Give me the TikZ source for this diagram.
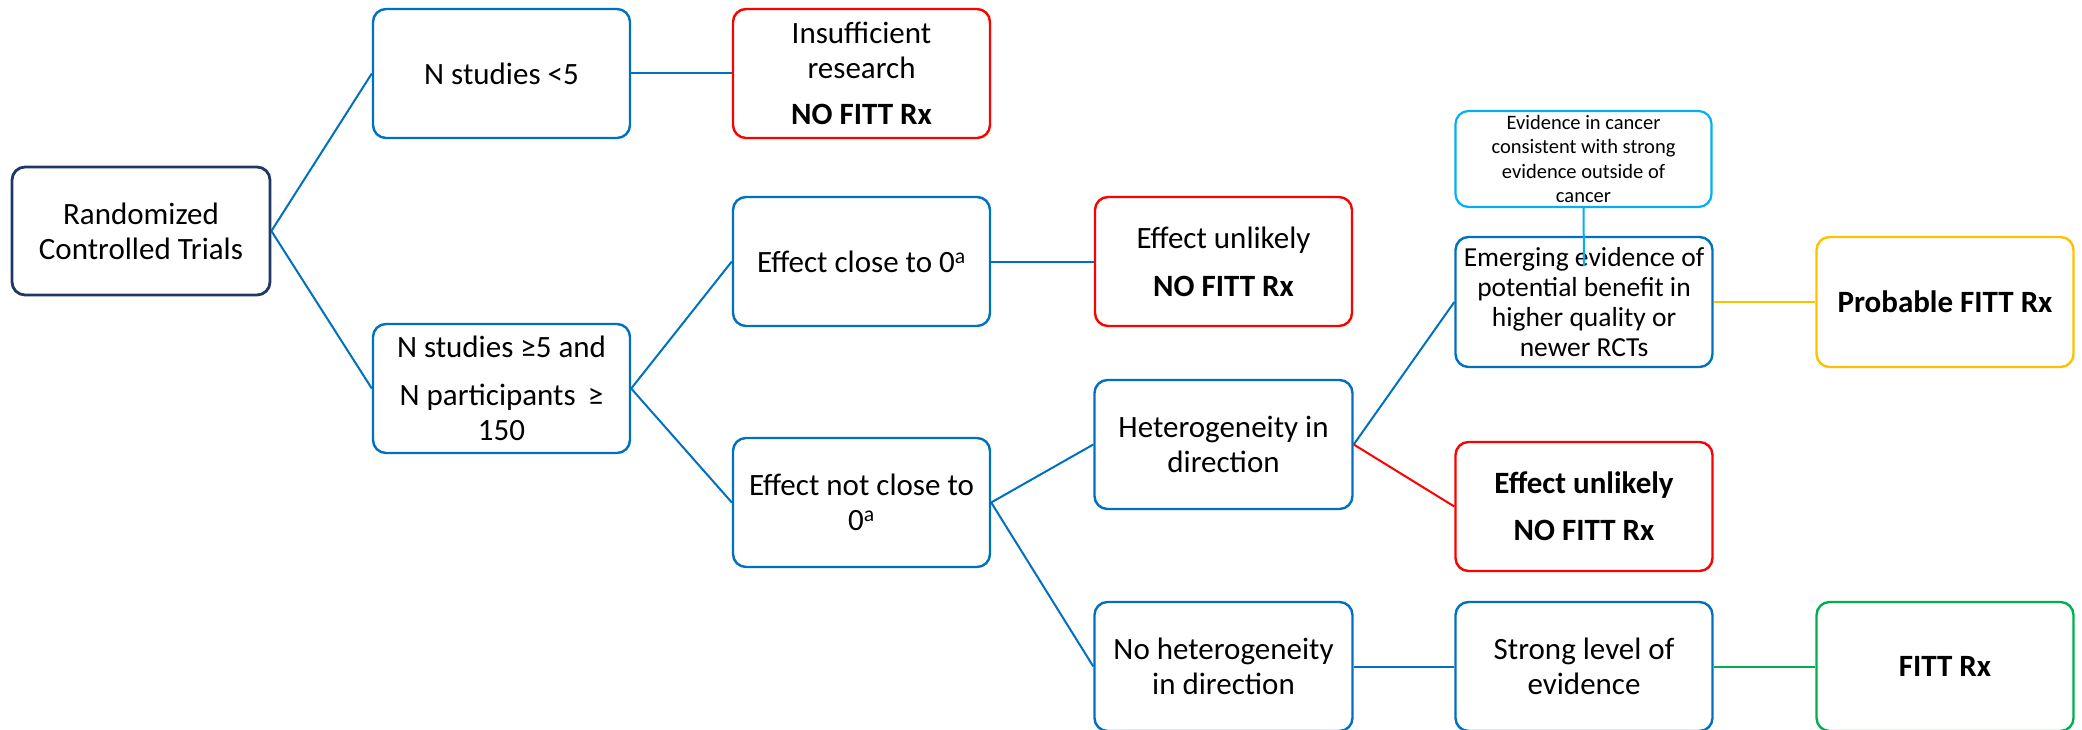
\documentclass[tikz,border=0pt]{standalone}
\usepackage{fontspec}
\setmainfont{Carlito}
\definecolor{cblue}{HTML}{0070C0}
\definecolor{cred}{HTML}{FF0000}
\definecolor{cnavy}{HTML}{203864}
\definecolor{cyellow}{HTML}{FFC000}
\definecolor{cgreen}{HTML}{00B050}
\definecolor{clight}{HTML}{00B0F0}
\tikzset{
  box/.style={draw=cblue, line width=2.4pt, rounded corners=13pt,
    minimum width=257pt, minimum height=129pt, align=center,
    inner sep=2pt, text=black, font=\fontsize{31}{35}\selectfont},
  redbox/.style={box, draw=cred},
  link/.style={draw=cblue, line width=2pt},
}
\begin{document}
\begin{tikzpicture}[x=1pt,y=-1pt]
\useasboundingbox (0,0) rectangle (2082,730);

% root and first split
\node[box, draw=cnavy, line width=2.8pt, minimum width=258pt, minimum height=128pt] (rct) at (141,231)
  {Randomized\\Controlled Trials};
\node[box] (few) at (501.5,73.5) {N studies <5};
\node[redbox] (insuff) at (861.5,73.5) {Insufficient\\research\\[11pt]\textbf{NO FITT Rx}};
\node[box] (many) at (501.5,388.5) {N studies ≥5 and\\[13pt]N participants \,≥\\150};

% effect size
\node[box] (close) at (861.5,261.5) {Effect close to 0\textsuperscript{a}};
\node[box] (notclose) at (861.5,502.5) {Effect not close to\\0\textsuperscript{a}};
\node[redbox] (unlikelyA) at (1223.5,261.5) {Effect unlikely\\[13pt]\textbf{NO FITT Rx}};

% heterogeneity
\node[box, minimum width=258pt] (hetero) at (1223.5,444.5) {Heterogeneity in\\direction};
\node[box, minimum width=258pt] (nohetero) at (1223.5,666.5) {No heterogeneity\\in direction};
\node[redbox] (unlikelyB) at (1584,506.5) {\textbf{Effect unlikely}\\[12pt]\textbf{NO FITT Rx}};
\node[box, minimum height=130pt, font=\fontsize{27.5}{30}\selectfont] (emerging) at (1584,302)
  {Emerging evidence of\\potential benefit in\\higher quality or\\newer RCTs};
\node[box] (strong) at (1584,666.5) {Strong level of\\evidence};
\node[box, draw=clight, minimum width=256pt, minimum height=96pt, line width=2.2pt,
  font=\fontsize{20.5}{24.5}\selectfont] (cancer) at (1583.5,159)
  {Evidence in cancer\\consistent with strong\\evidence outside of\\cancer};

% outcomes
\node[box, draw=cyellow, minimum height=130pt] (probable) at (1945,302) {\textbf{Probable FITT Rx}};
\node[box, draw=cgreen] (fitt) at (1945,666.5) {\textbf{FITT Rx}};

% connectors
\draw[link] (rct.east) -- (few.west);
\draw[link] (rct.east) -- (many.west);
\draw[link] (few.east) -- (insuff.west);
\draw[link] (many.east) -- (close.west);
\draw[link] (many.east) -- (notclose.west);
\draw[link] (close.east) -- (unlikelyA.west);
\draw[link] (notclose.east) -- (hetero.west);
\draw[link] (notclose.east) -- (nohetero.west);
\draw[link] (hetero.east) -- (emerging.west);
\draw[link, draw=cred] (hetero.east) -- (unlikelyB.west);
\draw[link] (nohetero.east) -- (strong.west);
\draw[link, draw=cgreen] (strong.east) -- (fitt.west);
\draw[link, draw=cyellow] (emerging.east) -- (probable.west);
\coordinate (cancerend) at (1584,266);
\draw[link, draw=clight] (cancer.south) -- (cancerend);
\end{tikzpicture}
\end{document}
